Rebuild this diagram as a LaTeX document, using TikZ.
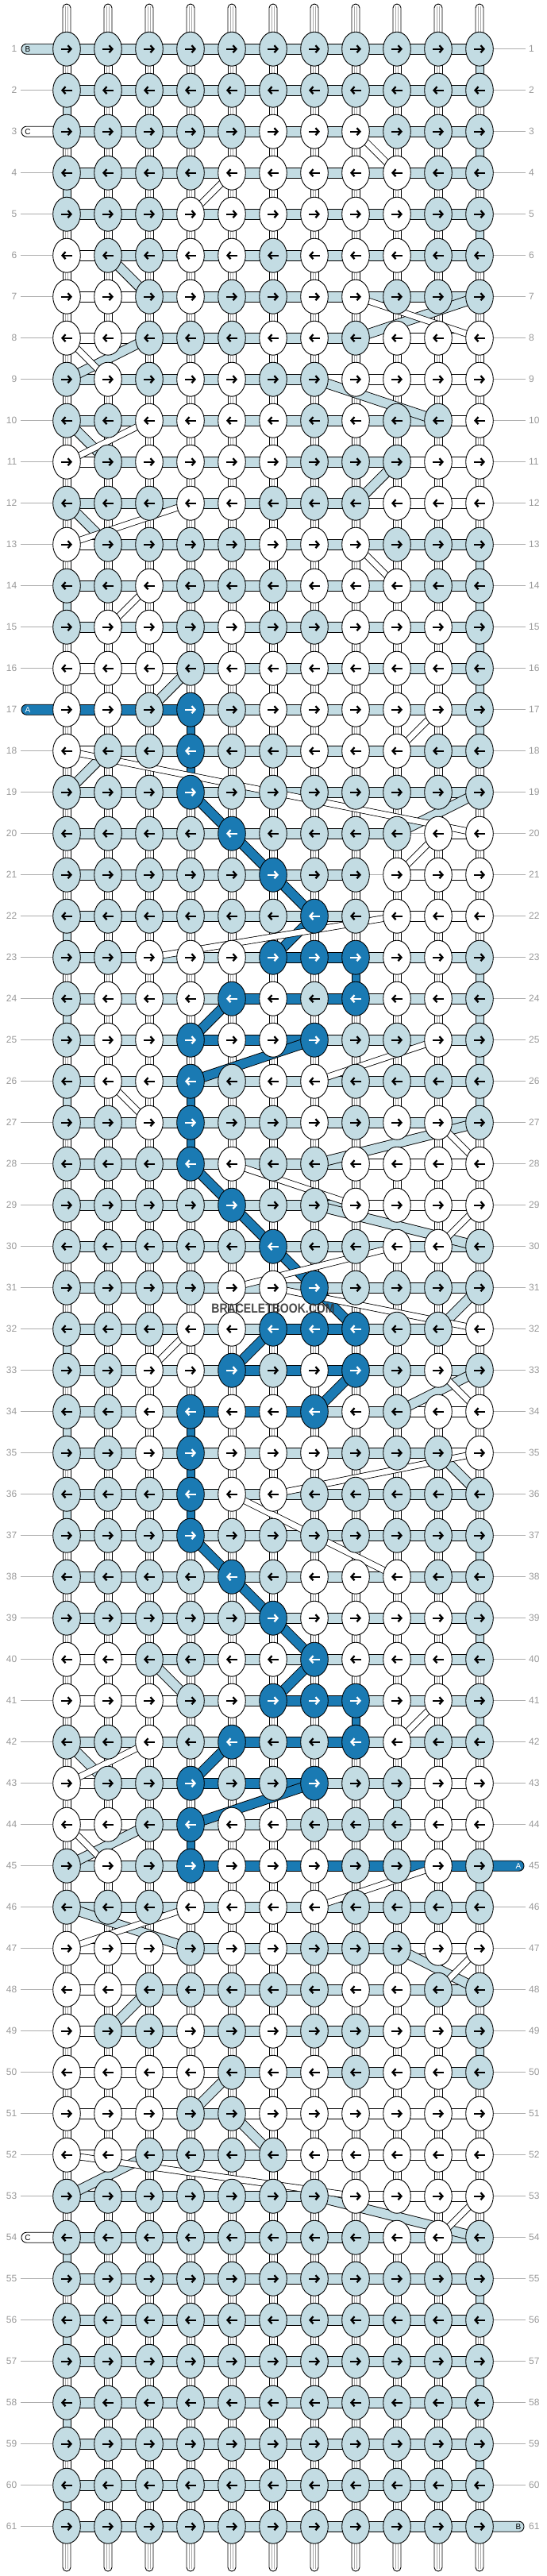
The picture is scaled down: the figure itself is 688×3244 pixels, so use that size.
\documentclass[tikz,border=0pt]{standalone}
\usepackage{fontspec}
\setmainfont{Liberation Sans}
\usepackage{graphicx}
\usepackage{xstring}
\usetikzlibrary{shapes.geometric, arrows.meta}

\definecolor{cb}{HTML}{C3DCE3}
\definecolor{cw}{HTML}{FFFFFF}
\definecolor{cd}{HTML}{1A7AB3}
\definecolor{labelgray}{HTML}{999999}
\definecolor{coregray}{HTML}{A8A8A8}

\tikzset{
  knot/.style={ellipse, draw=black, line width=0.9pt, minimum width=34.6pt, minimum height=43pt, inner sep=0pt},
  strand/.style={draw=black, line width=0.9pt},
  basestr/.style={draw=black, fill=white, line width=0.9pt},
  basecore/.style={draw=coregray, line width=0.5pt},
  carry/.style={draw=black, line width=0.9pt, double distance=11pt},
  whitecarry/.style={draw=black, line width=0.8pt, double=white, double distance=7pt},
  guide/.style={draw=labelgray!80, line width=0.8pt},
  rowlabel/.style={text=labelgray, font=\fontsize{12}{12}\selectfont, inner sep=0pt},
  tubelabel/.style={font=\fontsize{10}{10}\selectfont, inner sep=0pt},
  pointer/.style={-{Straight Barb[length=4pt,width=9pt]}, line width=2.3pt},
  watermark/.style={font=\bfseries\fontsize{16.5}{16.5}\selectfont, text=black!80, text opacity=0.9, inner sep=0pt}
}

% row: knot colours, strand colours between knots (n = no strand)
\newcommand\rowdata[3]{%
  \expandafter\def\csname ks#1\endcsname{#2}%
  \expandafter\def\csname hs#1\endcsname{#3}}
\rowdata{1}{bbbbbbbbbbb}{bbbbbbbbbb}
\rowdata{2}{bbbbbbbbbbb}{bbbbbbbbbb}
\rowdata{3}{bbbbbwwwbbb}{bbbbbbbbbb}
\rowdata{4}{bbbbwwwwwbb}{bbbbbbbbbb}
\rowdata{5}{bbbwwwwwwbb}{bbbbbbbbbb}
\rowdata{6}{wbbwwbwwwbb}{wbbbbbbbbb}
\rowdata{7}{wwbwbbwwbbb}{wwbbbbbbbb}
\rowdata{8}{wwbbbwwbwww}{wwbbbbbwww}
\rowdata{9}{bwbwwbbwwww}{bbbbbbwwww}
\rowdata{10}{bbwwwwbwbbw}{bbbbbbbbbw}
\rowdata{11}{wbwwwwbbbww}{wbbbbbbbww}
\rowdata{12}{bbbwwbbbwww}{bbbbbbbwww}
\rowdata{13}{wbbbbwwwbbb}{wbbbbbbbbb}
\rowdata{14}{bbwbbbwwwbb}{bbbbbbbbbb}
\rowdata{15}{bwwbwbbwwwb}{bbbbbbbbbb}
\rowdata{16}{wwwbwwwwwwb}{wwwbbbbbbb}
\rowdata{17}{wwbdbwwwwwb}{dddbbbbbbb}
\rowdata{18}{wbbdbbwwwbb}{wbbbbbbbbb}
\rowdata{19}{bbbdbbbbbbb}{bbbbbbbbbb}
\rowdata{20}{bbbbdbbbbww}{bbbbbbbbnw}
\rowdata{21}{bbbbbdbbwww}{bbbbbbbnww}
\rowdata{22}{bbbbbbdbwww}{bbbbbbbwww}
\rowdata{23}{bbwwwdddwwb}{bbbbbddbbb}
\rowdata{24}{bwwwdwbdwwb}{bbbbdddbbb}
\rowdata{25}{bwwdwwdbbwb}{bbbdddbbbb}
\rowdata{26}{bwwdbwwbbbb}{bbbbbbbbbb}
\rowdata{27}{bbwdbbwbwwb}{bbbbbbbbbb}
\rowdata{28}{bbbdwbbwwww}{bbbbbbbwww}
\rowdata{29}{bbbbdbbwwww}{bbbbbbbwww}
\rowdata{30}{bbbbbdbbwwb}{bbbbbbbbbb}
\rowdata{31}{bbbbwwdbbbb}{bbbbbbbbbb}
\rowdata{32}{bbbwwdddbbw}{bbbbbddbbw}
\rowdata{33}{bbwwdbwdbwb}{bbbbdddbbb}
\rowdata{34}{bbwdwwdwbww}{bbbdddbbww}
\rowdata{35}{bbwdwwwbbbw}{bbbbbbbbbw}
\rowdata{36}{bbbdwwbbbbb}{bbbbbbbbbb}
\rowdata{37}{bbbdbbbbbbb}{bbbbbbbbbb}
\rowdata{38}{bbbbdbwwwbb}{bbbbbbbbbb}
\rowdata{39}{bbbbbdwwwwb}{bbbbbbbbbb}
\rowdata{40}{wwbbwwdwwwb}{wwbbbbbbbb}
\rowdata{41}{wwwbwdddwwb}{wwwbbddbbb}
\rowdata{42}{bbwbdbbdwbb}{bbbbdddbbb}
\rowdata{43}{wbbdbbdbbww}{wbbdddbbww}
\rowdata{44}{wwbdwwbbbww}{wwbbbbbbww}
\rowdata{45}{bwbdwwwbbwb}{bbbddddddd}
\rowdata{46}{bbbwwwwbbbb}{bbbbbbbbbb}
\rowdata{47}{wwwbwwbbbww}{wwwbbbbbww}
\rowdata{48}{wwbbbbbwwbb}{wwbbbbbbbb}
\rowdata{49}{wbbwbwbbwwb}{wbbbbbbbbb}
\rowdata{50}{wwwwbwwbwwb}{wwwwbbbbbb}
\rowdata{51}{wwwbbwwwwww}{wwwbwwwwww}
\rowdata{52}{wwbbbbwwwww}{wwbbbwwwww}
\rowdata{53}{bbbbbbbwwww}{bbbbbbbwww}
\rowdata{54}{bbbbbbbbwwb}{bbbbbbbbbb}
\rowdata{55}{bbbbbbbbbbb}{bbbbbbbbbb}
\rowdata{56}{bbbbbbbbbbb}{bbbbbbbbbb}
\rowdata{57}{bbbbbbbbbbb}{bbbbbbbbbb}
\rowdata{58}{bbbbbbbbbbb}{bbbbbbbbbb}
\rowdata{59}{bbbbbbbbbbb}{bbbbbbbbbb}
\rowdata{60}{bbbbbbbbbbb}{bbbbbbbbbb}
\rowdata{61}{bbbbbbbbbbb}{bbbbbbbbbb}

\begin{document}
\begin{tikzpicture}[x=1pt, y=-1pt]
\useasboundingbox (0,0) rectangle (688,3244);

% knot positions
\foreach \r in {1,...,61} {
  \foreach \c in {1,...,11} {
    \coordinate (k\r-\c) at ({84+52*(\c-1)}, {61.7+52*(\r-1)});
  }
}
\foreach \c in {1,...,11} {
  \coordinate (top\c) at ({84+52*(\c-1)}, 5);
  \coordinate (bot\c) at ({84+52*(\c-1)}, 3238);
}
\foreach \r in {1,...,61} {
  \coordinate (lend\r) at (26, {61.7+52*(\r-1)});
  \coordinate (rend\r) at (662, {61.7+52*(\r-1)});
}

% row numbers
\foreach \r in {1,...,61} {
  \node[rowlabel, anchor=east] (ln\r) at ([xshift=-4.5pt]lend\r) {\r};
  \node[rowlabel, anchor=west] (rn\r) at ([xshift=4pt]rend\r) {\r};
  \IfSubStr{,1,3,17,54,}{,\r,}{}{\draw[guide] (lend\r) -- (k\r-1);}
  \IfSubStr{,45,61,}{,\r,}{}{\draw[guide] (k\r-11) -- (rend\r);}
}

% base strings
\foreach \c in {1,...,11} {
  \draw[basestr, rounded corners=4.9pt] ([xshift=-5pt]top\c) rectangle ([xshift=5pt]k1-\c);
  \draw[basecore] ([shift={(-1.5,3)}]top\c) -- ([xshift=-1.5pt]k1-\c)
                  ([shift={(1.5,3)}]top\c) -- ([xshift=1.5pt]k1-\c);
  \draw[basestr, rounded corners=4.9pt] ([xshift=-5pt]k61-\c) rectangle ([xshift=5pt]bot\c);
  \draw[basecore] ([xshift=-1.5pt]k61-\c) -- ([shift={(-1.5,-3)}]bot\c)
                  ([xshift=1.5pt]k61-\c) -- ([shift={(1.5,-3)}]bot\c);
}
\foreach \r [evaluate=\r as \rn using int(\r+1)] in {1,...,60} {
  \foreach \c in {1,...,11} {
    \draw[basestr] ([xshift=-5pt]k\r-\c) rectangle ([xshift=5pt]k\rn-\c);
    \draw[basecore] ([xshift=-1.5pt]k\r-\c) -- ([xshift=-1.5pt]k\rn-\c)
                    ([xshift=1.5pt]k\r-\c) -- ([xshift=1.5pt]k\rn-\c);
  }
}

% row strands
\foreach \r in {1,...,61} {
  \edef\hs{\csname hs\r\endcsname}
  \foreach \c [evaluate=\c as \cn using int(\c+1)] in {1,...,10} {
    \StrChar{\hs}{\c}[\hc]
    \IfStrEq{\hc}{n}{\draw[guide] (k\r-\c) -- (k\r-\cn);}
      {\draw[strand, fill=c\hc] ([yshift=6.5pt]k\r-\c) rectangle ([yshift=-6.5pt]k\r-\cn);}
  }
}

% strands going down
\foreach \r/\c/\vc in {1/11/b,3/11/b,5/11/b,13/11/b,14/11/b,15/11/b,16/11/b,17/11/b,
    23/11/b,24/11/b,25/11/b,26/11/b,37/11/b,39/11/b,41/11/b,45/11/b,49/11/b,55/11/b,57/11/b,59/11/b,
    2/1/b,4/1/b,14/1/b,22/1/b,24/1/b,26/1/b,32/1/b,34/1/b,36/1/b,54/1/b,56/1/b,58/1/b,60/1/b,
    17/4/d,18/4/d,23/8/d,26/4/d,27/4/d,34/4/d,35/4/d,36/4/d,41/8/d,44/4/d,43/9/b} {
  \pgfmathtruncatemacro{\rn}{\r+1}
  \draw[strand, fill=c\vc] ([xshift=-5pt]k\r-\c) rectangle ([xshift=5pt]k\rn-\c);
}

% string ends
\foreach \r/\tc/\tl/\tt in {1/b/B/black, 3/w/C/black, 17/d/A/white, 54/w/C/black} {
  \draw[strand, fill=c\tc, rounded corners=6.4pt] ([xshift=1pt, yshift=6.5pt]lend\r) rectangle ([yshift=-6.5pt]k\r-1);
  \node[tubelabel, text=\tt] (tl\r) at ([xshift=9pt]lend\r) {\tl};
}
\foreach \r/\tc/\tl/\tt in {45/d/A/white, 61/b/B/black} {
  \draw[strand, fill=c\tc, rounded corners=6.4pt] ([yshift=6.5pt]k\r-11) rectangle ([xshift=-2pt, yshift=-6.5pt]rend\r);
  \node[tubelabel, text=\tt] (tr\r) at ([xshift=-9pt]rend\r) {\tl};
}

% carried strands
\foreach \ra/\ca/\rz/\cz/\dc in {6/2/7/3/b, 7/11/8/8/b, 8/3/9/1/b, 9/7/10/10/b, 10/1/11/2/b,
    11/9/12/8/b, 12/1/13/2/b, 16/4/17/3/b, 18/2/19/1/b, 19/4/20/5/d, 19/11/20/9/b, 20/5/21/6/d,
    21/6/22/7/d, 22/7/23/6/d, 24/5/25/4/d, 25/7/26/4/d, 27/11/28/7/b, 28/4/29/5/d, 29/5/30/6/d,
    29/7/30/11/b, 30/6/31/7/d, 31/7/32/8/d, 31/11/32/10/b, 32/6/33/5/d, 33/8/34/7/d, 33/11/34/9/b,
    35/10/36/11/b, 37/4/38/5/d, 38/5/39/6/d, 39/6/40/7/d, 40/7/41/6/d, 40/3/41/4/b, 42/5/43/4/d,
    42/1/43/2/b, 43/7/44/4/d, 44/3/45/1/b, 46/1/47/4/b, 47/9/48/11/b, 48/3/49/2/b, 50/5/51/4/b,
    51/5/52/6/b, 52/3/53/1/b, 53/7/54/11/b} {
  \draw[carry, double=c\dc] (k\ra-\ca) -- (k\rz-\cz);
}
\foreach \ra/\ca/\rz/\cz in {3/8/4/9, 4/5/5/4, 7/8/8/11, 8/1/9/2, 10/3/11/1, 12/4/13/1, 13/8/14/9,
    14/3/15/2, 17/10/18/9, 18/1/19/6, 19/6/20/11, 20/10/21/9, 22/9/23/3, 25/10/26/7, 26/2/27/3,
    27/10/28/11, 28/5/29/8, 29/11/30/10, 30/9/31/5, 31/6/32/11, 32/4/33/3, 33/10/34/11, 35/11/36/6,
    36/5/37/7, 37/7/38/9, 41/10/42/9, 42/3/43/1, 44/1/45/2, 45/10/46/7, 46/4/47/1, 47/11/48/10,
    52/1/53/8, 53/11/54/10} {
  \draw[whitecarry] (k\ra-\ca) -- (k\rz-\cz);
}

% knots
\foreach \r in {1,...,61} {
  \edef\ks{\csname ks\r\endcsname}
  \foreach \c in {1,...,11} {
    \StrChar{\ks}{\c}[\kc]
    \node[knot, fill=c\kc] (kn\r-\c) at (k\r-\c) {};
    \IfStrEq{\kc}{d}{\def\ink{white}}{\def\ink{black}}
    \ifodd\r\relax
      \draw[pointer, draw=\ink] ([xshift=-7pt]kn\r-\c.center) -- ([xshift=7pt]kn\r-\c.center);
    \else
      \draw[pointer, draw=\ink] ([xshift=7pt]kn\r-\c.center) -- ([xshift=-7pt]kn\r-\c.center);
    \fi
  }
}

\node[watermark] (wm) at (344,1648) {\scalebox{0.85}[1]{BRACELETBOOK.COM}};
\end{tikzpicture}
\end{document}
